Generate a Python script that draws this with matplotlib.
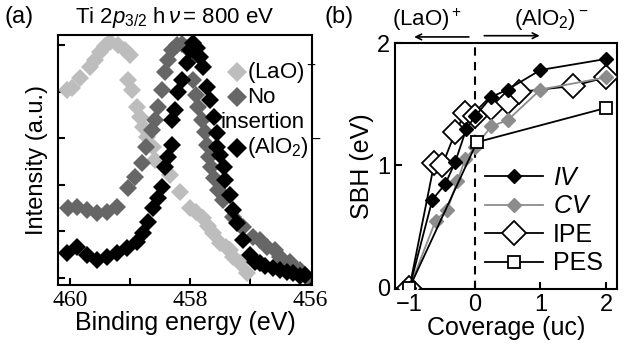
import numpy as np
import matplotlib
matplotlib.use("Agg")
import matplotlib.pyplot as plt

plt.rcParams['font.family'] = ['Liberation Sans', 'DejaVu Sans']
plt.rcParams['mathtext.fontset'] = 'custom'
plt.rcParams['mathtext.rm'] = 'Liberation Sans'
plt.rcParams['mathtext.it'] = 'Liberation Sans:italic'

# ---- panel (a): Ti 2p3/2 spectra ----
lao_e = [460.05, 459.97, 459.83, 459.67, 459.58, 459.5, 459.42, 459.33, 459.2, 459.08, 459.0,
         459.03, 458.97, 458.88, 458.83, 458.78, 458.72, 458.62, 458.58, 458.45, 458.33,
         458.17, 458.0, 457.9, 457.78, 457.7, 457.62, 457.5, 457.4, 457.33, 457.28,
         457.17, 457.05]
lao_i = [4.15, 4.19, 4.40, 4.64, 4.79, 4.96, 5.09, 5.17, 5.11, 5.0, 4.89,
         4.36, 4.15, 3.79, 3.57, 3.36, 3.15, 2.94, 2.66, 2.55, 2.34,
         1.98, 1.64, 1.55, 1.43, 1.25, 1.11, 0.89, 0.80, 0.74, 0.60,
         0.47, 0.26]

noins_e = [460.03, 459.88, 459.72, 459.55, 459.38, 459.22, 459.03, 458.92, 458.8, 458.73,
           458.63, 458.58, 458.53, 458.47, 458.42, 458.37, 458.3, 458.22, 458.13, 458.05,
           458.0, 457.95, 457.9, 457.87, 457.8, 457.75, 457.72, 457.68, 457.65, 457.6,
           457.53, 457.45, 457.28, 457.17, 457.12, 456.95, 456.83, 456.72, 456.58, 456.5,
           456.33, 456.28, 456.17, 456.05]
noins_i = [1.64, 1.66, 1.60, 1.53, 1.55, 1.66, 2.06, 2.30, 2.60, 2.94,
           3.30, 3.51, 3.79, 4.15, 4.53, 4.79, 5.0, 5.11, 5.13, 5.04,
           4.79, 4.36, 4.04, 3.79, 3.51, 3.26, 2.98, 2.72, 2.51, 2.28,
           2.02, 1.81, 1.45, 1.28, 1.23, 1.02, 0.96, 0.81, 0.74, 0.60,
           0.49, 0.38, 0.32, 0.17]

alo_e = [460.05, 459.88, 459.72, 459.55, 459.38, 459.22, 459.05, 458.88, 458.78, 458.7,
         458.62, 458.53, 458.47, 458.42, 458.37, 458.3, 458.3, 458.25, 458.2, 458.13,
         458.05, 458.0, 457.95, 457.88, 457.83, 457.78, 457.72, 457.67, 457.6, 457.55,
         457.55, 457.5, 457.43, 457.42, 457.33, 457.28, 457.22, 457.12, 457.0, 456.92,
         456.83, 456.75, 456.62, 456.5, 456.38, 456.28, 456.17, 456.08]
alo_i = [0.68, 0.81, 0.64, 0.53, 0.60, 0.68, 0.79, 0.91, 1.11, 1.34,
         1.64, 1.85, 2.09, 2.51, 2.72, 2.98, 3.51, 3.72, 4.11, 4.36,
         4.72, 5.0, 5.15, 5.04, 4.85, 4.64, 4.21, 3.94, 3.57, 3.23,
         2.94, 2.77, 2.51, 2.23, 1.91, 1.60, 1.32, 0.96, 0.64, 0.49,
         0.47, 0.40, 0.36, 0.32, 0.28, 0.26, 0.19, 0.21]

# ---- panel (b): SBH vs coverage ----
iv_x = [-1, -0.65, -0.45, -0.3, -0.13, 0.0, 0.25, 0.5, 1.0, 2.0]
iv_y = [0, 0.72, 0.85, 1.03, 1.30, 1.40, 1.56, 1.62, 1.78, 1.87]
cv_x = [-1, -0.6, -0.42, -0.27, -0.15, 0.0, 0.25, 0.5, 1.0, 2.0]
cv_y = [0, 0.55, 0.64, 0.87, 1.05, 1.15, 1.32, 1.37, 1.62, 1.72]
ipe_x = [-1, -0.62, -0.5, -0.3, -0.15, 0.0, 0.25, 0.5, 0.67, 1.5, 2.0]
ipe_y = [0, 1.02, 1.0, 1.27, 1.43, 1.40, 1.47, 1.52, 1.60, 1.65, 1.72]
pes_x = [-1, 0.03, 2.0]
pes_y = [0, 1.19, 1.47]

fig = plt.figure(figsize=(6.24, 3.5), dpi=100)
axa = fig.add_axes([0.093, 0.186, 0.407, 0.714])
axb = fig.add_axes([0.633, 0.174, 0.356, 0.703])

for e, i, c in [(lao_e, lao_i, '#bdbdbd'), (noins_e, noins_i, '#666666'), (alo_e, alo_i, 'black')]:
    axa.plot(e, i, 'D', color=c, ms=9.5, mew=0, ls='none')

axa.set_xlim(460.2, 455.97)
axa.set_ylim(0, 5.32)
axa.set_xticks([460, 458, 456])
axa.set_xticks([459, 457], minor=True)
axa.set_xticklabels(['460', '458', '456'], family='Liberation Serif', fontsize=17)
axa.set_yticks(np.arange(0.15, 5.2, 0.99))
axa.set_yticklabels([])
axa.tick_params(direction='in', length=5, width=1.5, which='both')
for s in axa.spines.values():
    s.set_linewidth(1.5)
axa.set_xlabel('Binding energy (eV)', fontsize=18, labelpad=0)
axa.set_ylabel('Intensity (a.u.)', fontsize=17, labelpad=4)

# legend of panel (a)
for yy, c in [(0.85, '#bdbdbd'), (0.75, '#666666'), (0.548, 'black')]:
    axa.plot([0.703], [yy], 'D', color=c, ms=10, mew=0, transform=axa.transAxes, clip_on=False)
axa.text(0.745, 0.85, '(LaO)$^+$', transform=axa.transAxes, fontsize=16, va='center')
axa.text(0.745, 0.75, 'No', transform=axa.transAxes, fontsize=16, va='center')
axa.text(0.64, 0.65, 'insertion', transform=axa.transAxes, fontsize=16, va='center')
axa.text(0.745, 0.548, '(AlO$_2$)$^-$', transform=axa.transAxes, fontsize=16, va='center')

fig.text(0.008, 0.95, '(a)', fontsize=17, va='center')
fig.text(0.12, 0.95, 'Ti 2$p_{3/2}$ h$\\,\\nu\\!$ = 800 eV', fontsize=16, va='center')
fig.text(0.52, 0.95, '(b)', fontsize=17, va='center')

# panel (b)
axb.axvline(0, color='black', ls=(0, (4, 3)), lw=1.5)
axb.plot(iv_x, iv_y, '-D', color='black', ms=7.5, lw=1.3, label='$IV$', zorder=5)
axb.plot(cv_x, cv_y, '-D', color='#8c8c8c', ms=7.5, lw=1.3, label='$CV$', zorder=4)
axb.plot(ipe_x, ipe_y, '-D', color='black', mfc='white', ms=12, mew=1.3, lw=1.3, label='IPE', zorder=3)
axb.plot(pes_x, pes_y, '-s', color='black', mfc='white', ms=9, mew=1.3, lw=1.3, label='PES', zorder=6)

axb.set_xlim(-1.22, 2.17)
axb.set_ylim(-0.01, 2.0)
axb.set_xticks([-1, 0, 1, 2])
axb.set_yticks([0, 1, 2])
axb.tick_params(direction='in', length=5, width=1.5, labelsize=17)
for s in axb.spines.values():
    s.set_linewidth(1.5)
axb.set_xlabel('Coverage (uc)', fontsize=18, labelpad=0)
axb.set_ylabel('SBH (eV)', fontsize=18, labelpad=2)
axb.legend(loc='lower right', bbox_to_anchor=(0.98, 0.015), frameon=False, fontsize=18,
           handlelength=2.3, handletextpad=0.4, labelspacing=0.18, borderaxespad=0)

axb.annotate('', xy=(-0.97, 2.05), xytext=(-0.05, 2.05),
             arrowprops=dict(arrowstyle='->', lw=1.2, color='black'), annotation_clip=False)
axb.annotate('', xy=(1.03, 2.06), xytext=(0.1, 2.06),
             arrowprops=dict(arrowstyle='->', lw=1.2, color='black'), annotation_clip=False)
axb.text(-0.73, 2.19, '(LaO)$^+$', fontsize=16, ha='center', va='center')
axb.text(1.17, 2.19, '(AlO$_2$)$^-$', fontsize=16, ha='center', va='center')

fig.savefig('out.png', dpi=100)
